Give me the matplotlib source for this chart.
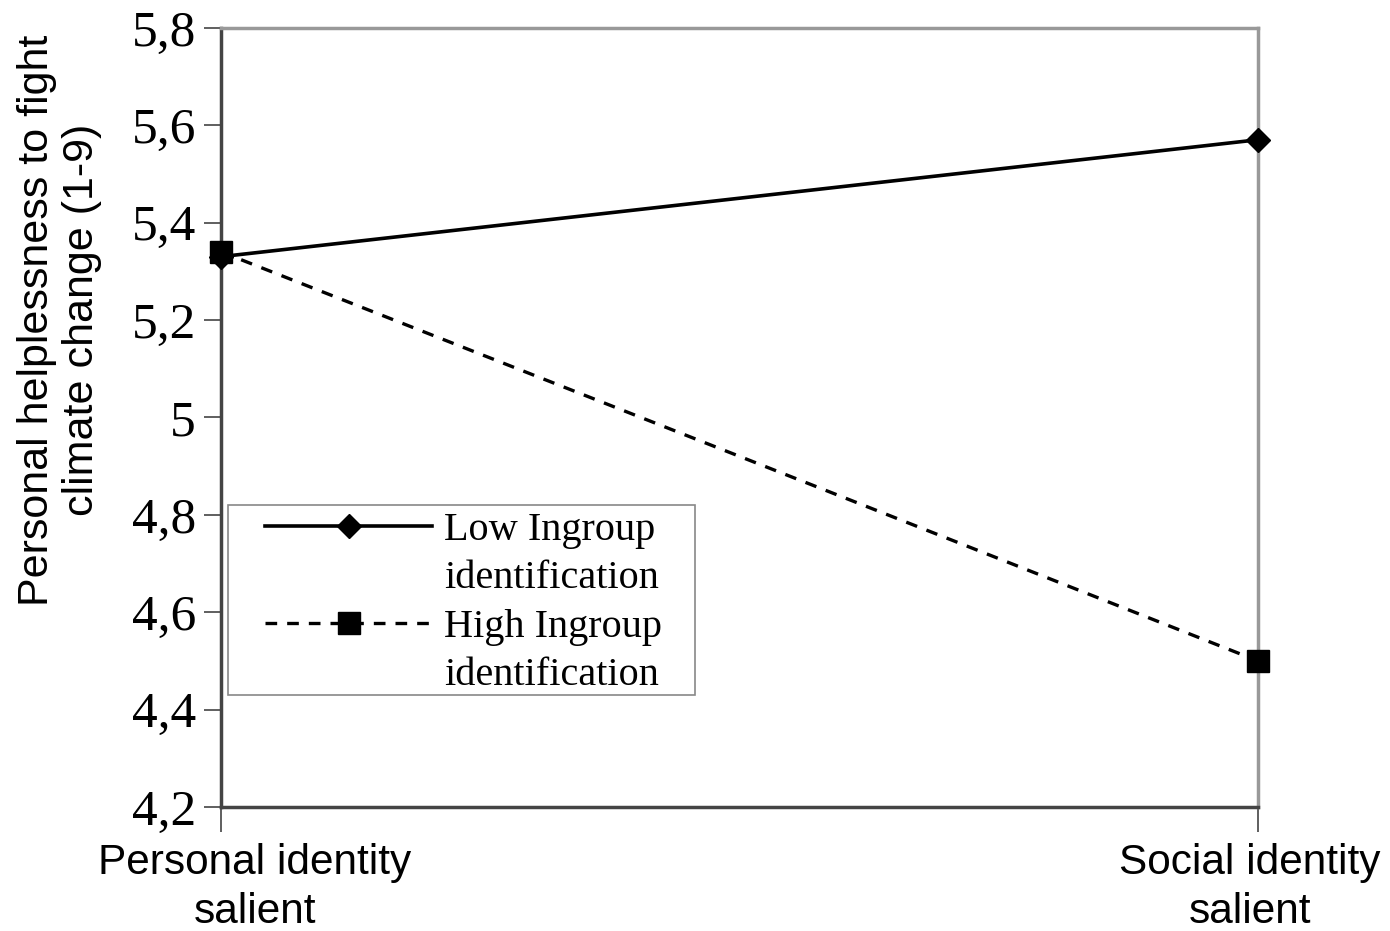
import matplotlib
matplotlib.use("Agg")
import matplotlib.pyplot as plt
from matplotlib.lines import Line2D
from matplotlib.patches import Rectangle
from matplotlib.transforms import ScaledTranslation

# data
conditions = ["Personal identity\nsalient", "Social identity\nsalient"]
low_ingroup = [5.33, 5.57]
high_ingroup = [5.34, 4.50]
y_ticks = [4.2, 4.4, 4.6, 4.8, 5.0, 5.2, 5.4, 5.6, 5.8]
y_tick_labels = ["4,2", "4,4", "4,6", "4,8", "5", "5,2", "5,4", "5,6", "5,8"]

fig = plt.figure(figsize=(13.9, 9.31), dpi=100)
ax = fig.add_axes([0.159, 0.1332, 0.746, 0.837])

x = [0, 1]
dash = (0, (3.5, 3.0))
ax.plot(x, low_ingroup, color="black", lw=2.6, marker="D", ms=12,
        clip_on=False, zorder=5)
ax.plot(x, high_ingroup, color="black", lw=2.4, ls=dash, marker="s", ms=16,
        clip_on=False, zorder=5)

ax.set_xlim(0, 1)
ax.set_ylim(4.2, 5.8)
ax.set_yticks(y_ticks)
ax.set_yticklabels(y_tick_labels, family="Liberation Serif", fontsize=37)
ax.set_xticks(x)
ax.set_xticklabels(conditions, family="Liberation Sans", fontsize=30.5, linespacing=1.3)
ax.tick_params(axis="y", direction="out", length=12, width=1.2, color="#444", pad=6)
ax.tick_params(axis="x", direction="inout", length=36, width=1.2, color="#444", pad=8)

# shift x tick labels like the original
offsets = [34, -8]
for lab, dx in zip(ax.get_xticklabels(), offsets):
    lab.set_transform(lab.get_transform() + ScaledTranslation(dx / 100, 0, fig.dpi_scale_trans))

for s in ["left", "bottom"]:
    ax.spines[s].set_color("#444")
    ax.spines[s].set_linewidth(2.5)
for s in ["top", "right"]:
    ax.spines[s].set_color("#999")
    ax.spines[s].set_linewidth(2.5)

ax.set_ylabel("Personal helplessness to fight\nclimate change (1-9)",
              family="Liberation Sans", fontsize=31, labelpad=10, linespacing=1.15)
ax.yaxis.set_label_coords(-0.115, 0.625)

# legend box drawn separately, entries placed inside it
ax.add_patch(Rectangle((0.007, 0.144), 0.45, 0.244, transform=ax.transAxes,
                       facecolor="white", edgecolor="#888", lw=1.2, zorder=6))
blank = Line2D([], [], color="none")
h1 = Line2D([], [], color="black", lw=2.6, marker="D", ms=12)
h2 = Line2D([], [], color="black", lw=2.4, ls=dash, marker="s", ms=16)
leg = ax.legend([h1, blank, h2, blank],
                ["Low Ingroup", "identification", "High Ingroup", "identification"],
                loc="upper left", bbox_to_anchor=(0.0424, 0.379),
                prop={"family": "Liberation Serif", "size": 29}, frameon=False,
                handlelength=4.15, handletextpad=0.3, borderaxespad=0, labelspacing=0.28,
                borderpad=0)
leg.set_zorder(7)

plt.savefig("out.png", dpi=100)
